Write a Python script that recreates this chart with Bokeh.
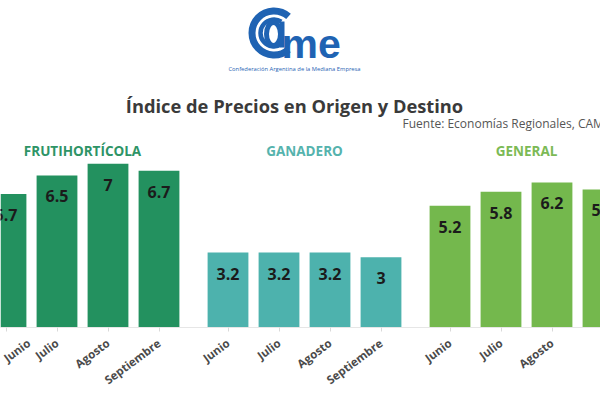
from bokeh.plotting import figure
from bokeh.models import Range1d, FixedTicker
from bokeh.embed import file_html
from bokeh.resources import INLINE
from bokeh.core.properties import value

# ---------------- data ----------------
months = ["Junio", "Julio", "Agosto", "Septiembre"]
sectors = ["FRUTIHORTÍCOLA", "GANADERO", "GENERAL"]
frutihorticola = [5.7, 6.5, 7.0, 6.7]
ganadero = [3.2, 3.2, 3.2, 3.0]
general = [5.2, 5.8, 6.2, 5.9]
series = [frutihorticola, ganadero, general]

title = "Índice de Precios en Origen y Destino"
source = "Fuente: Economías Regionales, CAME"
logo_sub = "Confederación Argentina de la Mediana Empresa"

# ---------------- styling / layout ----------------
bar_colors = ["#23915f", "#4db2ad", "#74b84d"]
title_colors = ["#2e9466", "#55b3ad", "#7cba55"]
BLUE = "#1f63b3"
W, H = 600, 400
BASE = 327.0  # baseline pixel row
PX = 51.0     # pixels per x unit (one bar slot)
PY = 23.4     # pixels per y unit
GAP = 222.0 / PX  # distance between panel starts in x units


def dx(px):
    """canvas x pixel -> data x"""
    return 1.5 + (px - 82.0) / PX


def dy(py):
    """canvas y pixel -> data y"""
    return (BASE - py) / PY


p = figure(width=W, height=H, output_backend="svg", toolbar_location=None,
           x_range=Range1d(dx(0), dx(W)), y_range=Range1d(0, dy(0)),
           y_axis_location=None, min_border_left=0, min_border_right=0,
           min_border_top=0, min_border_bottom=int(H - BASE))
p.grid.visible = False
p.outline_line_color = None
p.background_fill_color = "white"
p.border_fill_color = "white"

xs_all, tops_all, cols_all, labels_all = [], [], [], []
ticks, overrides = [], {}
for k, vals in enumerate(series):
    for i, v in enumerate(vals):
        x = k * GAP + i
        xs_all.append(x)
        tops_all.append(v)
        cols_all.append(bar_colors[k])
        labels_all.append(f"{v:g}")
        ticks.append(x)
        overrides[x] = months[i]

p.vbar(x=xs_all, top=tops_all, width=0.8, color=cols_all, line_color=None)
p.text(x=xs_all, y=tops_all, text=labels_all, y_offset=21,
       text_align="center", text_baseline="middle",
       text_font=value("Open Sans"), text_font_style="bold",
       text_font_size="16px", text_color="#1b1b1b")

# panel titles
for k, name in enumerate(sectors):
    p.text(x=[k * GAP + 1.5], y=[dy(150.5)], text=[name],
           text_align="center", text_baseline="alphabetic",
           text_font=value("Open Sans"), text_font_style="bold",
           text_font_size="13.5px", text_color=title_colors[k])

# main title and source
p.text(x=[dx(294)], y=[dy(105)], text=[title], text_align="center",
       text_baseline="alphabetic", text_font=value("Open Sans"),
       text_font_style="bold", text_font_size="18.3px", text_color="#3a3a3a")
p.text(x=[dx(402)], y=[dy(122.5)], text=[source], text_align="left",
       text_baseline="alphabetic", text_font=value("Open Sans"),
       text_font_size="12px", text_color="#555555")

# logo
p.arc(x=[dx(273.5)], y=[dy(32.5)], radius=22, radius_units="screen",
      start_angle=0.85, end_angle=5.43, direction="anticlock",
      line_color=BLUE, line_width=7)
p.arc(x=[dx(273.5)], y=[dy(32.5)], radius=13.5, radius_units="screen",
      start_angle=1.0, end_angle=5.28, direction="anticlock",
      line_color=BLUE, line_width=4.5)
p.ellipse(x=[dx(273)], y=[dy(33.5)], width=14, height=23,
          width_units="screen", height_units="screen",
          fill_color=None, line_color=BLUE, line_width=5)
p.quad(left=[dx(279.5)], right=[dx(284)], top=[dy(21)], bottom=[dy(47)],
       color=BLUE, line_color=None)
p.text(x=[dx(281)], y=[dy(43)], text=["me"], text_align="left",
       text_baseline="alphabetic", text_font=value("Liberation Sans"),
       text_font_style="bold", text_font_size="41px", text_color=BLUE)
p.text(x=[dx(294)], y=[dy(68)], text=[logo_sub], text_align="center",
       text_baseline="middle", text_font=value("Open Sans"),
       text_font_size="5.8px", text_color=BLUE)

# x axis with month labels
xa = p.xaxis[0]
xa.ticker = FixedTicker(ticks=ticks)
xa.major_label_overrides = overrides
xa.major_label_orientation = 0.64
xa.major_label_text_font = "Open Sans"
xa.major_label_text_font_style = "bold"
xa.major_label_text_font_size = "11.5px"
xa.major_label_text_color = "#4a4a4a"
xa.major_label_standoff = 10
xa.axis_line_color = "#e6e6e6"
xa.major_tick_line_color = "#d9d9d9"
xa.major_tick_in = 0
xa.major_tick_out = 4
xa.minor_tick_line_color = None

open("out.html", "w").write(file_html(p, INLINE))
